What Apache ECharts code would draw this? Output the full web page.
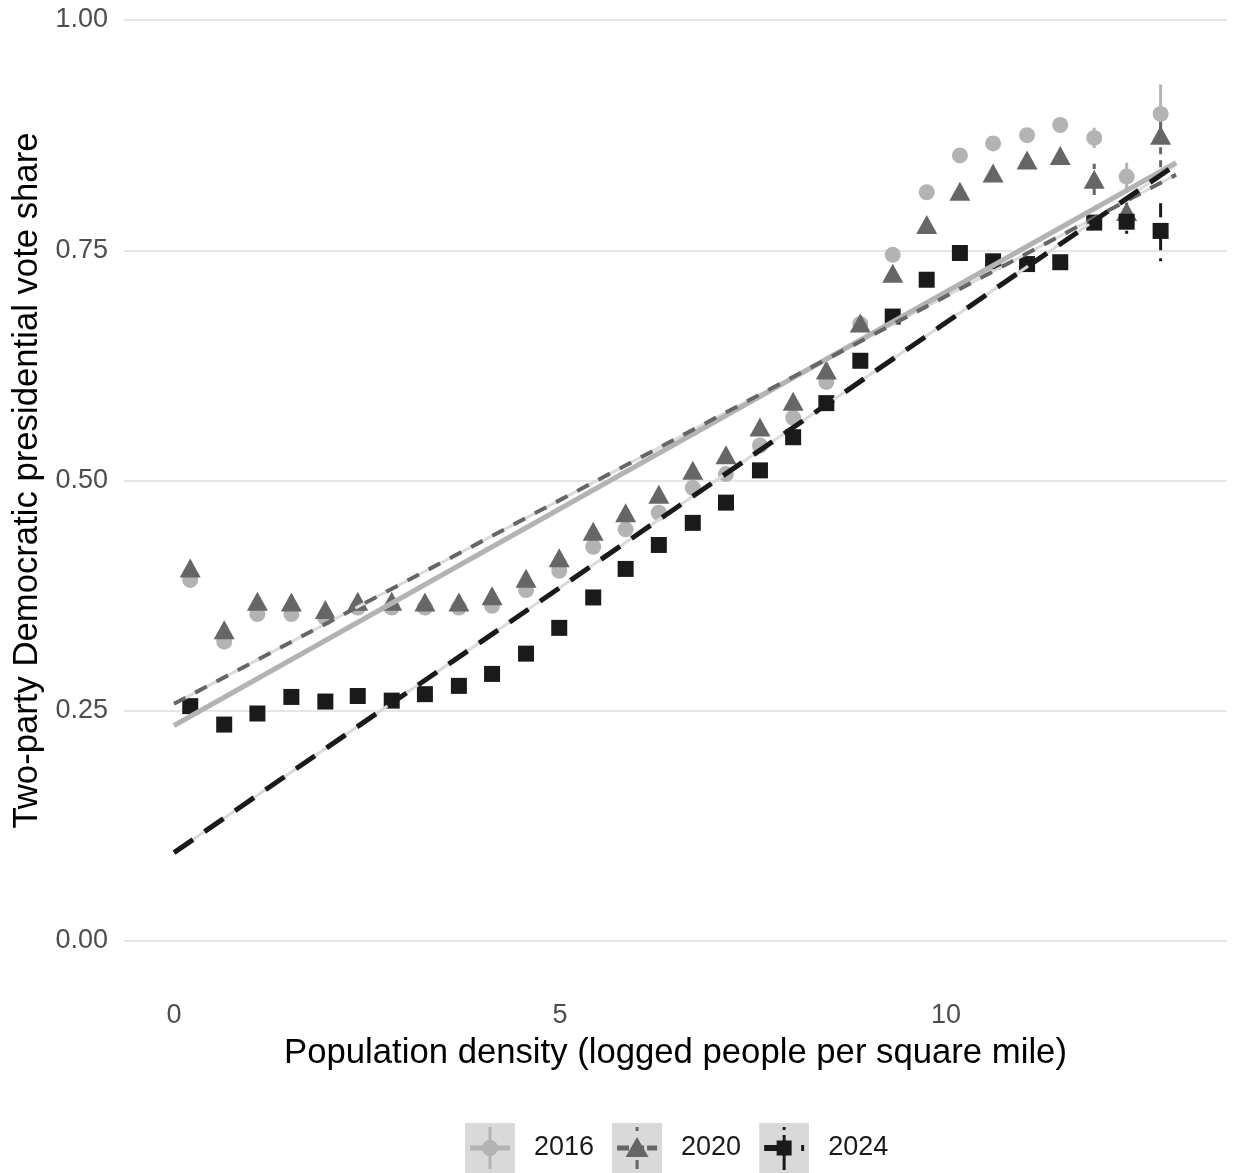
<!DOCTYPE html>
<html>
<head>
<meta charset="utf-8">
<script src="https://cdn.jsdelivr.net/npm/echarts@6/dist/echarts.min.js"></script>
<style>
  html, body { margin: 0; padding: 0; background: #ffffff; }
  #chart { width: 1233px; height: 1173px; }
</style>
</head>
<body>
<div id="chart"></div>
<script>
// ---- Data ----
const densityBins = [0.21, 0.65, 1.08, 1.52, 1.96, 2.38, 2.82, 3.25, 3.69, 4.12,
  4.56, 4.99, 5.43, 5.85, 6.28, 6.72, 7.15, 7.59, 8.02, 8.45,
  8.89, 9.31, 9.75, 10.18, 10.61, 11.05, 11.48, 11.92, 12.34, 12.78];

const share2016 = [0.392, 0.325, 0.355, 0.355, 0.351, 0.362, 0.362, 0.362, 0.362, 0.364,
  0.381, 0.402, 0.428, 0.447, 0.465, 0.492, 0.507, 0.538, 0.568, 0.607,
  0.670, 0.745, 0.813, 0.853, 0.866, 0.875, 0.886, 0.872, 0.830, 0.898];

const share2020 = [0.405, 0.338, 0.369, 0.368, 0.360, 0.369, 0.369, 0.368, 0.368, 0.375,
  0.394, 0.416, 0.445, 0.465, 0.485, 0.511, 0.528, 0.558, 0.586, 0.620,
  0.671, 0.725, 0.778, 0.814, 0.834, 0.848, 0.853, 0.827, 0.792, 0.875];

const share2024 = [0.255, 0.235, 0.247, 0.265, 0.260, 0.266, 0.261, 0.268, 0.277, 0.290,
  0.312, 0.340, 0.373, 0.404, 0.430, 0.454, 0.476, 0.511, 0.547, 0.584,
  0.630, 0.678, 0.718, 0.747, 0.738, 0.735, 0.737, 0.780, 0.781, 0.771];

// half-widths of the error bars
const err2016 = [0.004, 0.004, 0.004, 0.004, 0.004, 0.004, 0.004, 0.004, 0.004, 0.004,
  0.004, 0.004, 0.004, 0.004, 0.004, 0.004, 0.004, 0.004, 0.004, 0.004,
  0.004, 0.004, 0.004, 0.004, 0.005, 0.005, 0.006, 0.011, 0.015, 0.032];
const err2020 = [0.004, 0.004, 0.004, 0.004, 0.004, 0.004, 0.004, 0.004, 0.004, 0.004,
  0.004, 0.004, 0.004, 0.004, 0.004, 0.004, 0.004, 0.004, 0.004, 0.004,
  0.004, 0.004, 0.004, 0.004, 0.005, 0.005, 0.006, 0.017, 0.012, 0.035];
const err2024 = [0.004, 0.004, 0.004, 0.004, 0.004, 0.004, 0.004, 0.004, 0.004, 0.004,
  0.004, 0.004, 0.004, 0.004, 0.004, 0.004, 0.004, 0.004, 0.004, 0.004,
  0.004, 0.004, 0.004, 0.004, 0.005, 0.005, 0.006, 0.008, 0.013, 0.033];

// linear fit lines: [x, y] at both ends
const fit2016 = [[0, 0.234], [12.98, 0.845]];
const fit2020 = [[0, 0.2575], [12.98, 0.832]];
const fit2024 = [[0, 0.096], [12.98, 0.843]];

const years = ['2016', '2020', '2024'];
const xTicks = [0, 5, 10];
const yTicks = [0, 0.25, 0.5, 0.75, 1];

// ---- Styling ----
const FONT = 'Liberation Sans, Arial, Helvetica, sans-serif';
const C16 = '#b3b3b3', C20 = '#666666', C24 = '#1a1a1a';

function pts(vals) { return densityBins.map((x, i) => [x, vals[i]]); }
function bars(vals, errs) { return densityBins.map((x, i) => [x, vals[i] - errs[i], vals[i] + errs[i]]); }

function errSeries(name, data, color, dash) {
  return {
    type: 'custom', name: name, silent: true, z: 2,
    data: data,
    renderItem: function (params, api) {
      const p1 = api.coord([api.value(0), api.value(1)]);
      const p2 = api.coord([api.value(0), api.value(2)]);
      return {
        type: 'line',
        shape: { x1: p1[0], y1: p1[1], x2: p2[0], y2: p2[1] },
        style: { stroke: color, lineWidth: 3, lineDash: dash, fill: null }
      };
    }
  };
}

function svgIcon(inner) {
  const s = "<svg xmlns='http://www.w3.org/2000/svg' width='50' height='50' viewBox='0 0 50 50'>" +
    "<rect width='50' height='50' fill='#d9d9d9'/>" + inner + "</svg>";
  return 'image://data:image/svg+xml;charset=utf-8,' + encodeURIComponent(s);
}
const icon2016 = svgIcon(
  "<line x1='25' y1='4' x2='25' y2='46' stroke='#b3b3b3' stroke-width='3'/>" +
  "<line x1='5' y1='25' x2='45' y2='25' stroke='#b3b3b3' stroke-width='5'/>" +
  "<circle cx='25' cy='25' r='8' fill='#b3b3b3'/>");
const icon2020 = svgIcon(
  "<line x1='25' y1='4' x2='25' y2='46' stroke='#666666' stroke-width='3' stroke-dasharray='4 29 9 100'/>" +
  "<line x1='5' y1='25' x2='45' y2='25' stroke='#666666' stroke-width='5' stroke-dasharray='12 3 12 3 10'/>" +
  "<polygon points='13.5,34 36.5,34 25,14' fill='#666666'/>");
const icon2024 = svgIcon(
  "<line x1='25' y1='4' x2='25' y2='47' stroke='#1a1a1a' stroke-width='3' stroke-dasharray='3 5 40'/>" +
  "<line x1='5' y1='25' x2='45' y2='25' stroke='#1a1a1a' stroke-width='6' stroke-dasharray='15 22 3 100'/>" +
  "<rect x='17.5' y='17.5' width='15' height='15' fill='#1a1a1a'/>");

const chart = echarts.init(document.getElementById('chart'), null, { renderer: 'canvas' });

const option = {
  animation: false,
  backgroundColor: '#ffffff',
  textStyle: { fontFamily: FONT },
  grid: { left: 124, right: 6, top: 20, bottom: 232, containLabel: false, outerBoundsMode: 'none' },
  xAxis: {
    type: 'value',
    min: -0.648, max: 13.64,
    name: 'Population density (logged people per square mile)',
    nameLocation: 'middle',
    nameGap: 95,
    nameTextStyle: { fontSize: 34.7, color: '#000000', fontFamily: FONT },
    axisLine: { show: false },
    axisTick: { show: false },
    splitLine: { show: false },
    axisLabel: {
      customValues: xTicks,
      margin: 61,
      fontSize: 27, color: '#4d4d4d', fontFamily: FONT,
      formatter: v => String(v)
    }
  },
  yAxis: {
    type: 'value',
    min: 0, max: 1, interval: 0.25,
    name: 'Two-party Democratic presidential vote share',
    nameLocation: 'middle',
    nameGap: 79,
    nameTextStyle: { fontSize: 34.7, color: '#000000', fontFamily: FONT },
    axisLine: { show: false },
    axisTick: { show: false },
    splitLine: { show: true, lineStyle: { color: '#e6e6e6', width: 2 } },
    axisLabel: {
      margin: 16,
      fontSize: 27, color: '#4d4d4d', fontFamily: FONT,
      formatter: v => v.toFixed(2)
    }
  },
  legend: {
    left: 460, top: 1118,
    orient: 'horizontal',
    itemWidth: 50, itemHeight: 50,
    itemGap: 18,
    selectedMode: false,
    textStyle: { fontSize: 27, color: '#1a1a1a', fontFamily: FONT, padding: [0, 0, 0, 14] },
    data: [
      { name: years[0], icon: icon2016 },
      { name: years[1], icon: icon2020 },
      { name: years[2], icon: icon2024 }
    ]
  },
  series: [
    errSeries('err2016', bars(share2016, err2016), C16, null),
    errSeries('err2020', bars(share2020, err2020), C20, [7, 6]),
    errSeries('err2024', bars(share2024, err2024), C24, [3, 8, 14, 8]),
    {
      type: 'scatter', name: years[0], z: 3,
      symbol: 'circle', symbolSize: 16,
      itemStyle: { color: C16, opacity: 1 },
      data: pts(share2016)
    },
    {
      type: 'scatter', name: years[1], z: 3,
      symbol: 'triangle', symbolSize: [21, 19],
      itemStyle: { color: C20, opacity: 1 },
      data: pts(share2020)
    },
    {
      type: 'scatter', name: years[2], z: 3,
      symbol: 'rect', symbolSize: 16,
      itemStyle: { color: C24, opacity: 1 },
      data: pts(share2024)
    },
    // thin ribbons underneath the fit lines
    { type: 'line', name: 'band2016', z: 4, symbol: 'none', silent: true, data: fit2016,
      lineStyle: { color: '#dadada', width: 3 } },
    { type: 'line', name: 'band2020', z: 4, symbol: 'none', silent: true, data: fit2020,
      lineStyle: { color: '#dadada', width: 3 } },
    { type: 'line', name: 'band2024', z: 4, symbol: 'none', silent: true, data: fit2024,
      lineStyle: { color: '#dadada', width: 3 } },
    { type: 'line', name: 'fit2016', z: 5, symbol: 'none', silent: true, data: fit2016,
      lineStyle: { color: C16, width: 5, cap: 'butt' } },
    { type: 'line', name: 'fit2020', z: 5, symbol: 'none', silent: true, data: fit2020,
      lineStyle: { color: C20, width: 4, type: [13, 11], cap: 'butt' } },
    { type: 'line', name: 'fit2024', z: 5, symbol: 'none', silent: true, data: fit2024,
      lineStyle: { color: C24, width: 5, type: [23, 14], cap: 'butt' } }
  ]
};

chart.setOption(option);
</script>
</body>
</html>
